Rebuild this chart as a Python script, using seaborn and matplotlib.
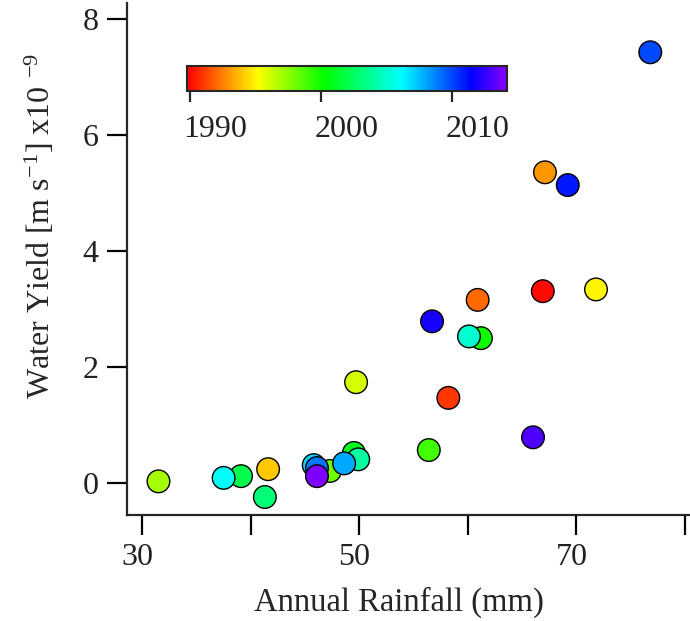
import numpy as np
import pandas as pd
import matplotlib
matplotlib.use("Agg")
import matplotlib.pyplot as plt
from matplotlib.colors import LinearSegmentedColormap, Normalize
from matplotlib.transforms import ScaledTranslation
import seaborn as sns

# -------------------- data --------------------
years = [1990, 1991, 1992, 1993, 1994, 1995, 1996, 1997, 1998, 1999,
         2000, 2001, 2002, 2003, 2004, 2005, 2006, 2007, 2008, 2009,
         2010, 2011, 2012, 2013, 2014]
rainfall = [66.9, 58.2, 60.9, 67.1, 41.6, 71.8, 49.7, 31.5, 47.3, 56.4,
            61.2, 49.5, 39.1, 41.3, 49.9, 60.1, 37.5, 45.8, 48.6, 46.1,
            76.8, 69.2, 56.7, 66.0, 46.1]
water_yield = [3.31, 1.47, 3.16, 5.36, 0.24, 3.34, 1.74, 0.03, 0.21, 0.57,
               2.50, 0.52, 0.12, -0.24, 0.41, 2.53, 0.09, 0.31, 0.34, 0.26,
               7.43, 5.14, 2.79, 0.79, 0.12]

cbar_ticks = [1990, 2000, 2010]

df = pd.DataFrame({"year": years, "rain": rainfall, "wy": water_yield})

# -------------------- style --------------------
sns.set_style("ticks")
plt.rcParams["font.family"] = ["Liberation Serif", "DejaVu Serif"]
plt.rcParams["mathtext.fontset"] = "custom"
plt.rcParams["mathtext.rm"] = "Liberation Serif"
plt.rcParams["mathtext.it"] = "Liberation Serif:italic"
plt.rcParams["text.color"] = "#222222"

# rainbow: red -> yellow -> green -> cyan -> blue -> purple
cmap = LinearSegmentedColormap.from_list(
    "igor_rainbow",
    [(0.0, "#ff0000"), (0.22, "#ffff00"), (0.43, "#00ff00"),
     (0.67, "#00ffff"), (0.89, "#0000ff"), (1.0, "#8800ff")],
)
norm = Normalize(1989.8, 2014.2)

W, H = 690, 621
fig = plt.figure(figsize=(W / 100, H / 100), dpi=100)
ax = fig.add_axes([127 / W, 1 - 515 / H, (W - 127) / W, 512 / H])

sns.scatterplot(
    data=df, x="rain", y="wy", hue="year", palette=cmap, hue_norm=norm,
    s=265, edgecolor="black", linewidth=1.0, legend=False, ax=ax, zorder=3,
)

ax.set_xlim(28.6, 80.46)
ax.set_ylim(-0.55, 8.28)
ax.set_xticks([30, 40, 50, 60, 70, 80])
ax.set_xticklabels(["30", "", "50", "", "70", ""])
ax.set_yticks([0, 2, 4, 6, 8])
for side in ["top", "right"]:
    ax.spines[side].set_visible(False)
for side in ["left", "bottom"]:
    ax.spines[side].set_linewidth(1.6)
ax.tick_params(axis="both", direction="out", length=14.5, width=1.6,
               labelsize=23, pad=6, colors="black", labelcolor="#222222")

# x labels sit a little left of their ticks in the original
shift = ScaledTranslation(-5 / 100, 0, fig.dpi_scale_trans)
for lab in ax.get_xticklabels():
    lab.set_transform(lab.get_transform() + shift)

ax.set_xlabel("Annual Rainfall (mm)", fontsize=23.5)
ax.xaxis.set_label_coords(0.483, -0.14)
ax.set_ylabel(r"Water Yield [m s$^{\mathregular{-1}}$] x10 $^{\mathregular{-9}}$",
              fontsize=23)
ax.yaxis.set_label_coords(-0.125, 0.565)

# colorbar inset
cax = fig.add_axes([187 / W, 1 - 91 / H, 320 / W, 25 / H])
sm = plt.cm.ScalarMappable(norm=norm, cmap=cmap)
cb = fig.colorbar(sm, cax=cax, orientation="horizontal")
cb.set_ticks(cbar_ticks)
cb.outline.set_linewidth(1.5)
cax.tick_params(direction="out", length=8, width=1.6, labelsize=23, pad=9,
                labelcolor="#222222")
cshift = ScaledTranslation(-6 / 100, 0, fig.dpi_scale_trans)
for lab in cax.get_xticklabels():
    lab.set_horizontalalignment("left")
    lab.set_transform(lab.get_transform() + cshift)

fig.savefig("out.png", dpi=100)
